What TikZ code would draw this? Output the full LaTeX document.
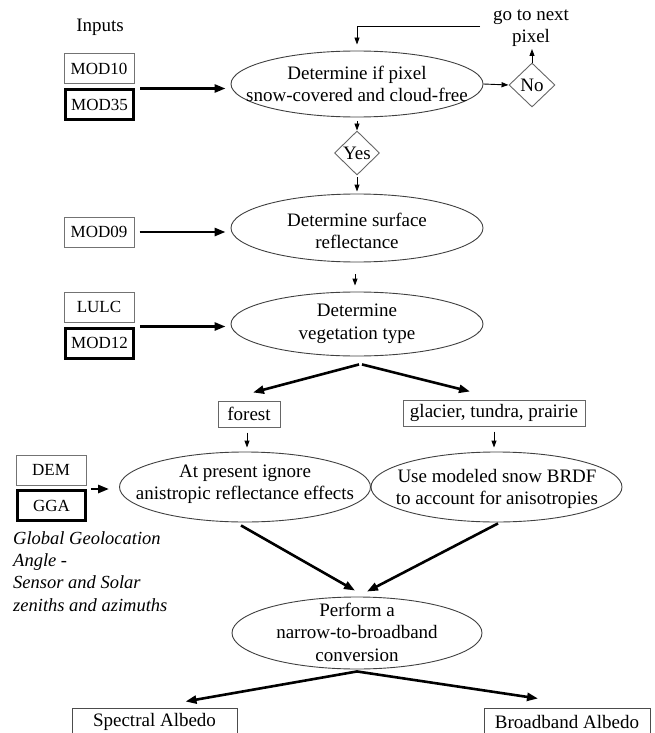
\documentclass[tikz,border=0pt]{standalone}
\usepackage{fontspec}
\setmainfont{Liberation Serif}
\usetikzlibrary{shapes.geometric,arrows.meta}
\begin{document}
\begin{tikzpicture}[x=1pt,y=-1pt,
  every node/.style={font=\fontsize{19}{22.5}\selectfont, inner sep=0pt},
  inbox/.style={draw=black!55, line width=1pt, minimum width=70pt, minimum height=30pt, font=\fontsize{17}{20}\selectfont},
  thickbox/.style={draw=black, line width=3pt, minimum width=68pt, minimum height=30pt, font=\fontsize{17}{20}\selectfont},
  catbox/.style={draw=black!60, line width=1pt, minimum height=26pt},
  outbox/.style={draw=black!70, line width=1pt, minimum height=28pt},
  oval/.style={ellipse, draw=black!75, line width=0.9pt},
  dia/.style={diamond, draw=black!60, line width=0.9pt},
  txt/.style={align=center},
  big/.style={line width=2.6pt, -{Triangle[length=11pt,width=8pt]}},
  small/.style={line width=0.9pt, -{Triangle[length=7pt,width=5pt]}}
]
\useasboundingbox (0,0) rectangle (655,733);
\clip (0,0) rectangle (655,733);

% inputs column
\node (inputs) at (100,27) {Inputs};
\node[inbox] (mod10) at (99,69) {MOD10};
\node[thickbox] (mod35) at (99.5,105) {MOD35};
\node[inbox] (mod09) at (99,232) {MOD09};
\node[inbox] (lulc) at (99,307) {LULC};
\node[thickbox] (mod12) at (99.5,343) {MOD12};
\node[inbox] (dem) at (51,470) {DEM};
\node[thickbox] (gga) at (51.5,505.5) {GGA};
\node[anchor=west, align=left, font=\itshape\fontsize{18.5}{22.3}\selectfont] (ggnote) at (13,571.5)
  {Global Geolocation\\Angle -\\Sensor and Solar\\zeniths and azimuths};

% step 1
\node[oval, minimum width=252pt, minimum height=66pt] (e1) at (357,84) {};
\node[txt] (e1t) at (357,84) {Determine if pixel\\snow-covered and cloud-free};
\node[dia, minimum width=46pt, minimum height=44pt] (no) at (532,85) {No};
\node[txt] (next) at (531,28) {go to next\\pixel};
\coordinate (loopstart) at (480,26);
\coordinate (nxt) at (532,49);
\node[dia, minimum width=45pt, minimum height=44pt] (yes) at (357,153) {Yes};

% step 2
\node[oval, minimum width=252pt, minimum height=68pt] (e2) at (357,228) {};
\node[txt] (e2t) at (357,231) {Determine surface\\reflectance};

% step 3
\node[oval, minimum width=252pt, minimum height=64pt] (e3) at (357,324) {};
\node[txt] (e3t) at (357,324) {Determine\\vegetation type};

% categories
\node[catbox, minimum width=62pt] (forest) at (249,414) {forest};
\node[catbox, minimum width=182pt] (glacier) at (494,413) {glacier, tundra, prairie};

% step 4
\node[oval, minimum width=251pt, minimum height=70pt] (e4) at (245,487) {};
\node[txt] (e4t) at (245,484) {At present ignore\\anistropic reflectance effects};
\node[oval, minimum width=251pt, minimum height=70pt] (e5) at (496.5,487) {};
\node[txt] (e5t) at (497,489) {Use modeled snow BRDF\\to account for anisotropies};

% step 5
\node[oval, minimum width=250pt, minimum height=72pt] (e6) at (357,633) {};
\node[txt] (e6t) at (357,632) {Perform a\\narrow-to-broadband\\conversion};

% outputs
\node[outbox, minimum width=165pt] (spec) at (154.5,722) {Spectral Albedo};
\node[outbox, minimum width=166pt] (broad) at (567,722) {Broadband Albedo};

% connectors
\draw[big] ([xshift=5pt]mod35.north east) -- ([xshift=-5pt]mod35.north east -| e1.west);
\draw[small] (e1.east) -- (no.west);
\draw[small] (no.north) -- (nxt);
\draw[small] (loopstart) -- (loopstart -| e1.north) -- ([yshift=6pt]e1.north);
\draw[small] ([yshift=-4pt]e1.south) -- (yes.north);
\draw[small] ([yshift=-2pt]yes.south) -- ([yshift=2pt]e2.north);
\draw[big] ([xshift=5pt]mod09.east) -- ([xshift=-5pt]mod09.east -| e2.west);
\draw[small] ([shift={(-2pt,-12pt)}]e2.south) -- ([shift={(-2pt,6pt)}]e3.north);
\draw[big] ([xshift=5pt]mod12.north east) -- ([xshift=-5pt]mod12.north east -| e3.west);
\draw[big] ([shift={(2pt,-8pt)}]e3.south) -- ([shift={(4pt,8pt)}]forest.north);
\draw[big] ([shift={(5pt,-8pt)}]e3.south) -- ([shift={(-24pt,8pt)}]glacier.north);
\draw[small] ([shift={(-2pt,-5pt)}]forest.south) -- ([shift={(2pt,4pt)}]e4.north);
\draw[small] ([yshift=-5pt]glacier.south) -- ([shift={(-2.5pt,4pt)}]e5.north);
\draw[big] ([xshift=4pt]gga.north east) -- ([xshift=-10pt]gga.north east -| e4.west);
\draw[big] ([shift={(-4pt,-3pt)}]e4.south) -- ([shift={(-2pt,6pt)}]e6.north);
\draw[big] ([shift={(1.5pt,-1pt)}]e5.south) -- ([shift={(10pt,5pt)}]e6.north);
\draw[big] ([yshift=-2pt]e6.south) -- ([shift={(31pt,6pt)}]spec.north);
\draw[big] ([yshift=-2pt]e6.south) -- ([shift={(-29pt,9pt)}]broad.north);
\end{tikzpicture}
\end{document}
